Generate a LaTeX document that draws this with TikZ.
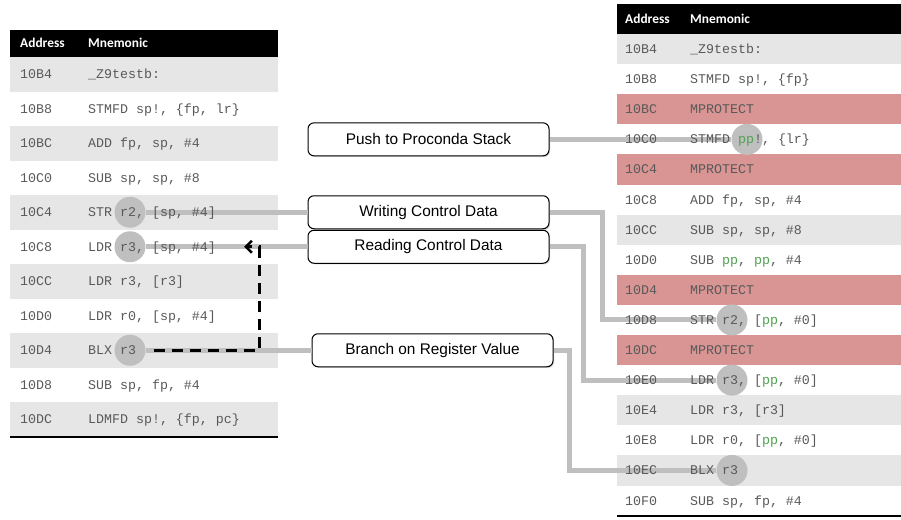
\documentclass[tikz,border=0pt]{standalone}
\usepackage{fontspec}
\setmainfont{Liberation Sans}
\newfontfamily\codefont{Liberation Mono}
\newfontfamily\headfont{Carlito}
\usetikzlibrary{arrows.meta,shadows}
\definecolor{rowgray}{RGB}{230,230,230}
\definecolor{rowred}{RGB}{217,149,148}
\definecolor{linkgray}{RGB}{191,191,191}
\definecolor{codegray}{RGB}{89,89,89}
\definecolor{ppgreen}{RGB}{80,160,80}
\newcommand{\pp}{\textcolor{ppgreen}{pp}}
% name, x address, x mnemonic, baseline, address, mnemonic
\newcommand{\asmrow}[6]{\node[code] (#1a) at (#2,#4) {#5}; \node[code] (#1m) at (#3,#4) {#6};}

\begin{document}
\begin{tikzpicture}[x=1pt, y=-1pt,
		code/.style={anchor=base west, inner sep=0pt, text=codegray, font=\codefont\fontsize{13.3}{16}\selectfont},
		head/.style={anchor=base west, inner sep=0pt, text=white, font=\headfont\bfseries\fontsize{13.4}{15}\selectfont},
		infobox/.style={draw, line width=1pt, rounded corners=6pt, fill=white, minimum width=241pt, minimum height=33pt,
			font=\fontsize{15.4}{18}\selectfont, drop shadow={shadow xshift=1.2pt, shadow yshift=-1.2pt, opacity=0.3}},
		regdot/.style={circle, fill=linkgray, minimum size=31pt, inner sep=0pt},
		link/.style={draw=linkgray, line width=5pt},
		flowarrow/.style={line width=3pt, dash pattern=on 11pt off 7pt, shorten <=8pt,
			-{Straight Barb[length=6pt, width=12pt, line width=2.6pt]}}]
	\useasboundingbox (0,0) rectangle (901,519);
	%%%%% START %%%%%
	
	% left listing
	\fill[black] (10,30) rectangle (278,57);
	\fill[rowgray] (10,57) rectangle (278,91.5);
	\fill[rowgray] (10,126) rectangle (278,160.5);
	\fill[rowgray] (10,195) rectangle (278,229.5);
	\fill[rowgray] (10,264) rectangle (278,298.5);
	\fill[rowgray] (10,333) rectangle (278,367.5);
	\fill[rowgray] (10,402) rectangle (278,436.5);
	
	% right listing
	\fill[black] (617,4) rectangle (901,34);
	\fill[rowgray] (617,34) rectangle (901,64.1);
	\fill[rowred] (617,94.2) rectangle (901,124.3);
	\fill[rowred] (617,154.4) rectangle (901,184.5);
	\fill[rowgray] (617,214.6) rectangle (901,244.7);
	\fill[rowred] (617,274.8) rectangle (901,304.9);
	\fill[rowred] (617,335) rectangle (901,365.1);
	\fill[rowgray] (617,395.2) rectangle (901,425.3);
	\fill[rowgray] (617,455.4) rectangle (901,485.5);
	
	% boxes
	\node[infobox] (pushbox) at (428.5,139.35) {Push to Proconda Stack};
	\node[infobox] (writebox) at (428.5,212.25) {Writing Control Data};
	\node[infobox] (readbox) at (428.5,246.75) {Reading Control Data};
	\node[infobox] (branchbox) at (432.5,350.25) {Branch on Register Value};
	
	% highlighted registers
	\node[regdot] (strdot) at (130,212.25) {};
	\node[regdot] (ldrdot) at (130,246.75) {};
	\node[regdot] (blxdot) at (130,350.25) {};
	\node[regdot] (ppdot) at (747,139.35) {};
	\node[regdot] (pstrdot) at (732,319.95) {};
	\node[regdot] (pldrdot) at (732,380.15) {};
	\node[regdot] (pblxdot) at (732,470.45) {};
	
	% links
	\draw[link] (writebox) -- (strdot);
	\draw[link] (readbox) -- (ldrdot);
	\draw[link] (branchbox) -- (blxdot);
	\draw[link] (pushbox) -- (ppdot);
	\draw[link] (writebox.east) -- ++(53,0) |- (pstrdot);
	\draw[link] (readbox.east) -- ++(34,0) |- (pldrdot);
	\draw[link] (branchbox.east) -- ++(16,0) |- (pblxdot);
	
	% control flow
	\coordinate (turn) at (259,350.25);
	\coordinate (loadtip) at (244,246.75);
	\draw[flowarrow] (blxdot) -- (turn) |- (loadtip);
	
	% left text
	\node[head] (lhaddr) at (20,47.5) {Address};
	\node[head] (lhmnem) at (88,47.5) {Mnemonic};
	\asmrow{L0}{20}{88}{78.75}{10B4}{\_Z9testb:}
	\asmrow{L1}{20}{88}{113.25}{10B8}{STMFD sp!, \{fp, lr\}}
	\asmrow{L2}{20}{88}{147.75}{10BC}{ADD fp, sp, \#4}
	\asmrow{L3}{20}{88}{182.25}{10C0}{SUB sp, sp, \#8}
	\asmrow{L4}{20}{88}{216.75}{10C4}{STR r2, [sp, \#4]}
	\asmrow{L5}{20}{88}{251.25}{10C8}{LDR r3, [sp, \#4]}
	\asmrow{L6}{20}{88}{285.75}{10CC}{LDR r3, [r3]}
	\asmrow{L7}{20}{88}{320.25}{10D0}{LDR r0, [sp, \#4]}
	\asmrow{L8}{20}{88}{354.75}{10D4}{BLX r3}
	\asmrow{L9}{20}{88}{389.25}{10D8}{SUB sp, fp, \#4}
	\asmrow{L10}{20}{88}{423.75}{10DC}{LDMFD sp!, \{fp, pc\}}
	
	% right text
	\node[head] (rhaddr) at (625,23.5) {Address};
	\node[head] (rhmnem) at (690,23.5) {Mnemonic};
	\asmrow{R0}{625}{690}{53.55}{10B4}{\_Z9testb:}
	\asmrow{R1}{625}{690}{83.65}{10B8}{STMFD sp!, \{fp\}}
	\asmrow{R2}{625}{690}{113.75}{10BC}{MPROTECT}
	\asmrow{R3}{625}{690}{143.85}{10C0}{STMFD \pp!, \{lr\}}
	\asmrow{R4}{625}{690}{173.95}{10C4}{MPROTECT}
	\asmrow{R5}{625}{690}{204.05}{10C8}{ADD fp, sp, \#4}
	\asmrow{R6}{625}{690}{234.15}{10CC}{SUB sp, sp, \#8}
	\asmrow{R7}{625}{690}{264.25}{10D0}{SUB \pp, \pp, \#4}
	\asmrow{R8}{625}{690}{294.35}{10D4}{MPROTECT}
	\asmrow{R9}{625}{690}{324.45}{10D8}{STR r2, [\pp, \#0]}
	\asmrow{R10}{625}{690}{354.55}{10DC}{MPROTECT}
	\asmrow{R11}{625}{690}{384.65}{10E0}{LDR r3, [\pp, \#0]}
	\asmrow{R12}{625}{690}{414.75}{10E4}{LDR r3, [r3]}
	\asmrow{R13}{625}{690}{444.85}{10E8}{LDR r0, [\pp, \#0]}
	\asmrow{R14}{625}{690}{474.95}{10EC}{BLX r3}
	\asmrow{R15}{625}{690}{505.05}{10F0}{SUB sp, fp, \#4}
	
	% table ends
	\draw[line width=2pt] (10,437) -- (278,437);
	\draw[line width=2pt] (617,516) -- (901,516);
	
	%%%%% END %%%%%
\end{tikzpicture}
\end{document}
